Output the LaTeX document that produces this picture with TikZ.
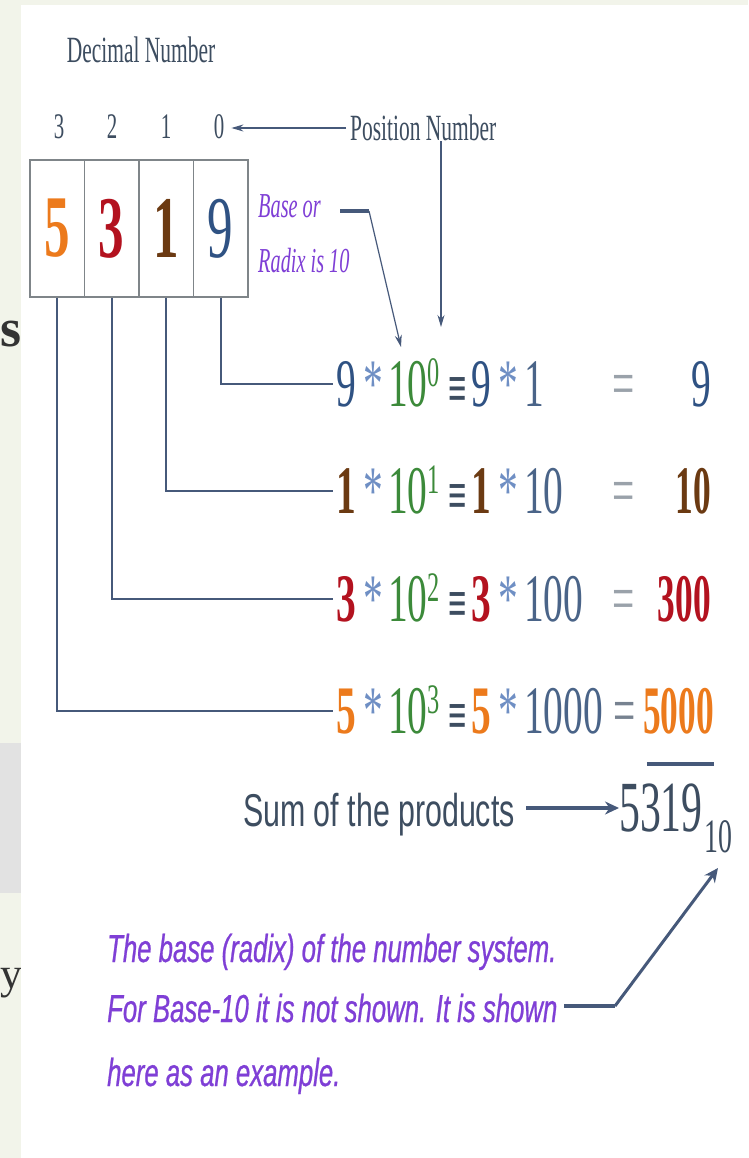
\documentclass[tikz,border=0pt]{standalone}
\usepackage{fontspec}
\setmainfont{Liberation Serif}
\newfontfamily\nserif[FakeStretch=0.58]{Liberation Serif}
\newfontfamily\nserifn[FakeStretch=0.52]{Liberation Serif}
\newfontfamily\nsans[FakeStretch=0.66]{Liberation Sans}
\newfontfamily\psans[FakeStretch=0.66,FakeBold=0.6]{Liberation Sans}
\usetikzlibrary{arrows.meta}
\definecolor{bggreen}{HTML}{F2F4EA}
\definecolor{bandgrey}{HTML}{E2E2E2}
\definecolor{slate}{HTML}{3D4D60}
\definecolor{linec}{HTML}{46597A}
\definecolor{boxc}{HTML}{7F8589}
\definecolor{dblue}{HTML}{2F5283}
\definecolor{ltblue}{HTML}{6F8FC4}
\definecolor{dgreen}{HTML}{3C8A3A}
\definecolor{brownc}{HTML}{6B3A12}
\definecolor{redc}{HTML}{B3121F}
\definecolor{orangec}{HTML}{EC7A1C}
\definecolor{eqgrey}{HTML}{9AA2AA}
\definecolor{valc}{HTML}{4A6488}
\definecolor{purp}{HTML}{7F3FD6}
\tikzset{
  lbl/.style={inner sep=0pt, text=slate, font=\nserif\fontsize{37}{40}\selectfont},
  posdigit/.style={inner sep=0pt, anchor=base, text=slate, font=\nserif\fontsize{36}{40}\selectfont},
  cellbox/.style={draw=boxc, line width=1.3pt, minimum width=54.5pt, minimum height=137pt, inner sep=0pt, font=\nserif\fontsize{88}{90}\selectfont},
  eqpart/.style={inner sep=3pt, anchor=base, font=\nserif\fontsize{68}{72}\selectfont},
  eqstar/.style={eqpart, text=ltblue},
  eqv/.style={eqpart, text=slate, font=\nserif\bfseries\fontsize{56}{56}\selectfont},
  conn/.style={draw=linec, line width=2pt},
  thin arrow/.style={draw=linec, line width=1.2pt, -{Stealth[length=12pt,width=7pt]}},
  fat arrow/.style={draw=linec, line width=3.8pt, -{Stealth[length=14pt,width=13pt]}},
  fat line/.style={draw=linec, line width=3.6pt},
  purptext/.style={inner sep=0pt, anchor=base west, text=purp, font=\psans\itshape\fontsize{39}{44}\selectfont},
}
\newcommand{\pw}[1]{10\raisebox{0.28em}{\fontsize{42}{42}\selectfont #1}}
\begin{document}
\begin{tikzpicture}[x=1pt,y=-1pt]
\useasboundingbox (0,0) rectangle (748,1158);
% background and left strip
\fill[bggreen] (0,0) rectangle (748,1158);
\fill[bandgrey] (0,743) rectangle (21,893);
\node[anchor=base west, inner sep=0pt, text=black!80, font=\bfseries\fontsize{54}{54}\selectfont] (ls) at (0.5,346) {s};
\node[anchor=base west, inner sep=0pt, text=black!80, font=\fontsize{44}{44}\selectfont] (ly) at (0,988) {y};
\fill[white] (21,5) rectangle (748,1158);

% headings
\node[lbl] (dec) at (141,50) {Decimal Number};
\node[posdigit] (p3) at (59,139) {3};
\node[posdigit] (p2) at (112,139) {2};
\node[posdigit] (p1) at (166,139) {1};
\node[posdigit] (p0) at (219,139) {0};
\node[lbl, anchor=west] (pn) at (350,128) {Position Number};

% box
\node[cellbox, text=orangec] (c3) at (57.25,228.5) {\bfseries 5};
\node[cellbox, text=redc] (c2) at (111.75,228.5) {\bfseries 3};
\node[cellbox, text=brownc] (c1) at (166.25,228.5) {\bfseries 1};
\node[cellbox, text=dblue] (c0) at (220.75,228.5) {9};

% base or radix
\node[inner sep=0pt, anchor=base west, text=purp, font=\nserif\itshape\fontsize{35}{38}\selectfont] (base1) at (258,218) {Base or};
\node[inner sep=0pt, anchor=base west, text=purp, font=\nserif\itshape\fontsize{35}{38}\selectfont] (base2) at (258,272) {Radix is 10};
\coordinate (b1) at (340,211);
\coordinate (b2) at (369,211);
\coordinate (b3) at (401,347);
\coordinate (pt) at (441,327);

% row 1
\node[eqpart, text=dblue] (r0) at (346,406) {9};
\node[eqstar] (s01) at (373,406) {*};
\node[eqpart, text=dgreen, anchor=base west] (t0) at (385,406) {\pw{0}};
\node[eqv] (e0) at (458,407) {≡};
\node[eqpart, text=dblue] (d0) at (481,406) {9};
\node[eqstar] (s02) at (508,406) {*};
\node[eqpart, text=valc, anchor=base west] (v0) at (521,406) {1};
\node[eqpart, text=eqgrey] (q0) at (624,406) {=};
\node[eqpart, text=dblue, anchor=base east] (res0) at (714,406) {9};
% row 2
\node[eqpart, text=brownc] (r1) at (346,513) {\bfseries 1};
\node[eqstar] (s11) at (373,513) {*};
\node[eqpart, text=dgreen, anchor=base west] (t1) at (385,513) {\pw{1}};
\node[eqv] (e1) at (458,514) {≡};
\node[eqpart, text=brownc] (d1) at (481,513) {\bfseries 1};
\node[eqstar] (s12) at (508,513) {*};
\node[eqpart, text=valc, anchor=base west] (v1) at (521,513) {10};
\node[eqpart, text=eqgrey] (q1) at (624,513) {=};
\node[eqpart, text=brownc, anchor=base east, font=\nserifn\fontsize{68}{72}\selectfont] (res1) at (714,513) {\bfseries 10};
% row 3
\node[eqpart, text=redc] (r2) at (346,621) {\bfseries 3};
\node[eqstar] (s21) at (373,621) {*};
\node[eqpart, text=dgreen, anchor=base west] (t2) at (385,621) {\pw{2}};
\node[eqv] (e2) at (458,622) {≡};
\node[eqpart, text=redc] (d2) at (481,621) {\bfseries 3};
\node[eqstar] (s22) at (508,621) {*};
\node[eqpart, text=valc, anchor=base west] (v2) at (521,621) {100};
\node[eqpart, text=eqgrey] (q2) at (624,621) {=};
\node[eqpart, text=redc, anchor=base east, font=\nserifn\fontsize{68}{72}\selectfont] (res2) at (714,621) {\bfseries 300};
% row 4
\node[eqpart, text=orangec] (r3) at (346,733) {\bfseries 5};
\node[eqstar] (s31) at (373,733) {*};
\node[eqpart, text=dgreen, anchor=base west] (t3) at (385,733) {\pw{3}};
\node[eqv] (e3) at (458,734) {≡};
\node[eqpart, text=orangec] (d3) at (481,733) {\bfseries 5};
\node[eqstar] (s32) at (508,733) {*};
\node[eqpart, text=valc, anchor=base west] (v3) at (521,733) {1000};
\node[eqpart, text=slate!70, inner sep=0pt] (q3) at (625,733) {=};
\node[eqpart, text=orangec, anchor=base east, inner sep=0pt, font=\nserifn\fontsize{68}{72}\selectfont] (res3) at (714,733) {\bfseries 5000};

% connectors from the cells
\draw[conn] (c0.south) |- (r0.west);
\draw[conn] (c1.south) |- (r1.west);
\draw[conn] (c2.south) |- (r2.west);
\draw[conn] (c3.south) |- (r3.west);

% arrows of labels
\draw[thin arrow, shorten <=4pt, shorten >=7pt] (pn.west) -- (p0.east |- pn.west);
\draw[thin arrow] (pn.south -| pt) -- (pt);
\draw[fat line] (b1) -- (b2);
\draw[thin arrow] (b2) -- (b3);

% underline
\coordinate (u1) at (res3.south west |- 0,764);
\coordinate (u2) at (res3.south east |- 0,764);
\draw[draw=linec, line width=4pt] ([xshift=4pt]u1) -- (u2);

% sum
\node[inner sep=0pt, anchor=base east, text=slate, font=\nsans\fontsize{46}{50}\selectfont] (sum) at (515,826) {Sum of the products};
\node[inner sep=0pt, anchor=base west, text=slate, font=\nserif\fontsize{72}{72}\selectfont] (tot) at (619,831) {5319\kern2pt\raisebox{-0.3em}{\fontsize{48}{48}\selectfont 10}};
\coordinate (sa) at (526,808);
\draw[fat arrow] (sa) -- (tot.west |- sa);

% bottom text
\node[purptext] (bt1) at (107,962) {The base (radix) of the number system.};
\node[purptext] (bt2) at (107,1022) {For Base-10 it is not shown. It is shown};
\node[purptext] (bt3) at (107,1086) {here as an example.};
\coordinate (h1) at (564,1006);
\coordinate (h2) at (615,1006);
\coordinate (h3) at (718,868);
\draw[fat line] (h1) -- (h2);
\draw[fat arrow, line width=3pt, line join=round] (h2) -- (h3);
\end{tikzpicture}
\end{document}
